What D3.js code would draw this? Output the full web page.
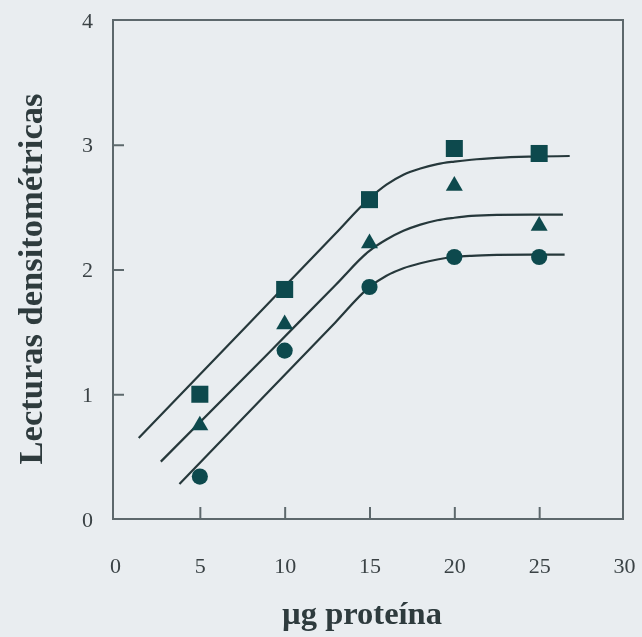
<!DOCTYPE html>
<html>
<head>
<meta charset="utf-8">
<script src="https://cdn.jsdelivr.net/npm/d3@7"></script>
<style>
  html, body { margin: 0; padding: 0; background: #e9edf0; }
  svg { display: block; }
</style>
</head>
<body>
<svg id="chart" width="642" height="637"></svg>
<script>
// Protein amount (µg) loaded per lane
const proteinUg = [5, 10, 15, 20, 25];

// Densitometric readings, one series per marker
const squareReadings   = [1.00, 1.84, 2.56, 2.97, 2.93];
const triangleReadings = [0.75, 1.56, 2.21, 2.67, 2.35];
const circleReadings   = [0.34, 1.35, 1.86, 2.10, 2.10];

// Fitted saturation curves: [µg, reading] samples
const squareFit = [[1.4, 0.65], [8, 1.582], [13, 2.288], [15, 2.57], [16, 2.68], [17, 2.76], [18, 2.81], [19, 2.845], [20, 2.865], [21, 2.88], [22.5, 2.895], [24.5, 2.905], [26.8, 2.91]];
const triangleFit = [[2.7, 0.46], [9, 1.323], [13, 1.876], [15, 2.15], [16, 2.24], [17, 2.31], [18, 2.36], [19, 2.395], [20, 2.415], [21, 2.43], [22.5, 2.438], [24.5, 2.44], [26.4, 2.44]];
const circleFit = [[3.8, 0.28], [9, 1.014], [13, 1.578], [15, 1.86], [16, 1.95], [17, 2.01], [18, 2.05], [19, 2.08], [20, 2.10], [21, 2.11], [22.5, 2.117], [24.5, 2.12], [26.5, 2.12]];

// Axis ticks and titles
const xTicks = [0, 5, 10, 15, 20, 25, 30];
const yTicks = [0, 1, 2, 3, 4];
const xTitle = "µg proteína";
const yTitle = "Lecturas densitométricas";

const svg = d3.select("#chart");
const x = d3.scaleLinear().domain([0, 30]).range([115, 624]);
const y = d3.scaleLinear().domain([0, 4]).range([519, 20]);

const ink = "#26383b";
const markColor = "#0d4a4d";
const frameColor = "#5d686c";
const font = "'Liberation Serif', 'Times New Roman', serif";

const soft = svg.append("defs").append("filter").attr("id", "soft");
soft.append("feGaussianBlur").attr("stdDeviation", 0.55);

const g = svg.append("g").attr("filter", "url(#soft)");

// Plot frame
g.append("rect")
  .attr("x", 113).attr("y", y(4))
  .attr("width", 623 - 113).attr("height", y(0) - y(4))
  .attr("fill", "none").attr("stroke", frameColor).attr("stroke-width", 2);

// Axes with inward ticks
const xAxis = g.append("g")
  .attr("transform", `translate(0,${y(0)})`)
  .call(d3.axisBottom(x).tickValues(xTicks).tickFormat(d3.format("d"))
    .tickSizeInner(-12).tickSizeOuter(0).tickPadding(38));
const yAxis = g.append("g")
  .attr("transform", `translate(113,0)`)
  .call(d3.axisLeft(y).tickValues(yTicks).tickFormat(d3.format("d"))
    .tickSizeInner(-11).tickSizeOuter(0).tickPadding(20));

[xAxis, yAxis].forEach(a => {
  a.select(".domain").remove();
  a.selectAll(".tick line").attr("stroke", frameColor).attr("stroke-width", 2);
  a.selectAll(".tick text")
    .attr("fill", "#3a4245")
    .style("font-family", font)
    .style("font-size", "22px");
});
// ticks at the frame edges coincide with the frame
xAxis.selectAll(".tick").filter(d => d === 0 || d === 30).select("line").remove();
yAxis.selectAll(".tick").filter(d => d === 0 || d === 4).select("line").remove();

// Fitted curves
const line = d3.line().x(d => x(d[0])).y(d => y(d[1])).curve(d3.curveMonotoneX);
[squareFit, triangleFit, circleFit].forEach(fit => {
  g.append("path")
    .attr("d", line(fit))
    .attr("fill", "none")
    .attr("stroke", ink)
    .attr("stroke-width", 2.2);
});

// Data markers
const sym = (type, size) => d3.symbol().type(type).size(size)();
const series = [
  { values: squareReadings, path: sym(d3.symbolSquare, 290) },
  { values: triangleReadings, path: sym(d3.symbolTriangle, 125) },
  { values: circleReadings, path: sym(d3.symbolCircle, 205) }
];
series.forEach(s => {
  g.append("g").selectAll("path")
    .data(proteinUg.map((p, i) => [p, s.values[i]]))
    .join("path")
    .attr("d", s.path)
    .attr("transform", d => `translate(${x(d[0])},${y(d[1])})`)
    .attr("fill", markColor);
});

// Axis titles
g.append("text")
  .attr("x", 362).attr("y", 624)
  .attr("text-anchor", "middle")
  .attr("fill", "#2e3a3d")
  .style("font-family", font).style("font-weight", "bold").style("font-size", "32.5px")
  .text(xTitle);

g.append("text")
  .attr("transform", `translate(42,${279}) rotate(-90)`)
  .attr("text-anchor", "middle")
  .attr("fill", "#2e3a3d")
  .style("font-family", font).style("font-weight", "bold").style("font-size", "34.5px")
  .text(yTitle);
</script>
</body>
</html>
